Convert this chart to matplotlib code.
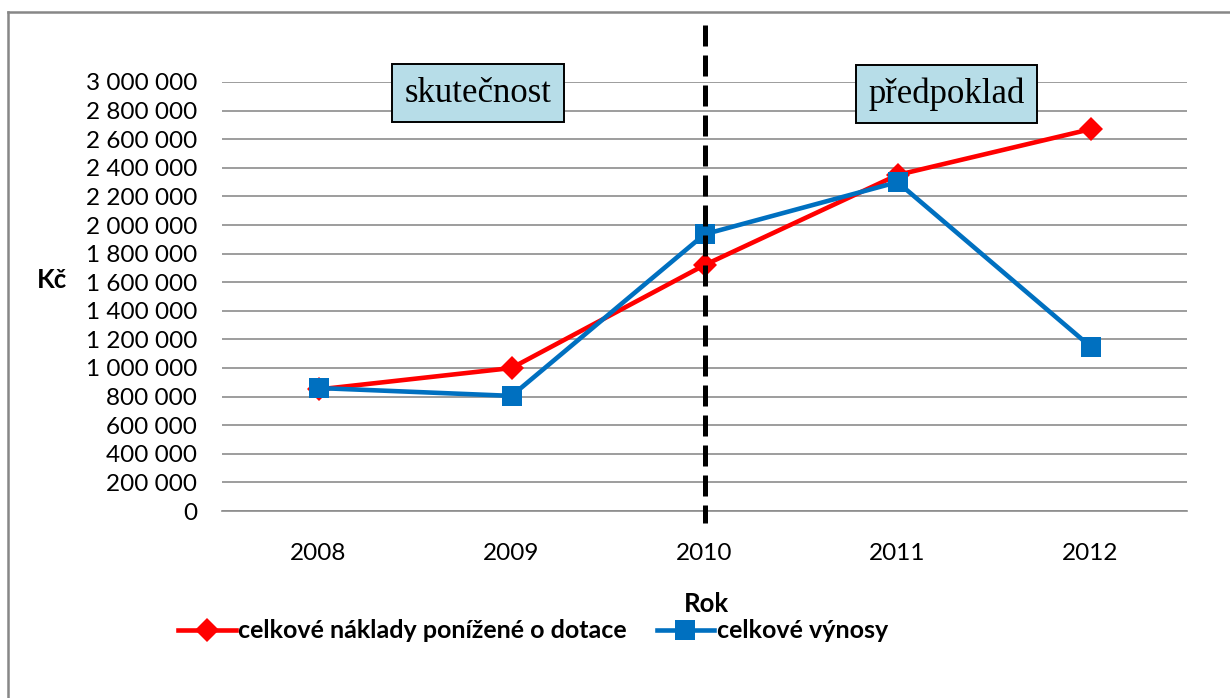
import matplotlib.pyplot as plt
from matplotlib.lines import Line2D

# data
years = ['2008', '2009', '2010', '2011', '2012']
naklady = [850000, 1000000, 1720000, 2350000, 2670000]
vynosy = [860000, 805000, 1935000, 2300000, 1150000]
y_ticks = list(range(0, 3000001, 200000))
y_labels = [f'{v:,}'.replace(',', ' ') for v in y_ticks]

plt.rcParams['font.family'] = ['Lato', 'DejaVu Sans']

fig = plt.figure(figsize=(12.3, 6.98), dpi=100)
ax = fig.add_axes([222 / 1230, 1 - 511 / 698, 965 / 1230, 429 / 698])

x = list(range(len(years)))
ax.plot(x, naklady, color='#FF0000', lw=3.3, marker='D', ms=12, mew=0,
        label='celkové náklady ponížené o dotace', zorder=4)
ax.plot(x, vynosy, color='#0070C0', lw=3.3, marker='s', ms=14, mew=0,
        label='celkové výnosy', zorder=5)

ax.set_xlim(-0.5, 4.5)
ax.set_ylim(0, 3000000)
ax.set_xticks(x, years)
ax.set_yticks(y_ticks, y_labels)
ax.tick_params(axis='both', length=0, labelsize=17.5)
ax.tick_params(axis='x', pad=23)
ax.tick_params(axis='y', pad=18)
ax.grid(axis='y', color='#8c8c8c', lw=1.2)
ax.set_axisbelow(True)
for s in ['top', 'right', 'left']:
    ax.spines[s].set_visible(False)
ax.spines['bottom'].set_color('#8c8c8c')
ax.spines['bottom'].set_linewidth(1.2)

# dividing line between actual and forecast
ax.axvline(2, ymin=1.133, ymax=-0.028, color='black', lw=3.6,
           dashes=(4.2, 1.8), clip_on=False, zorder=6)

box = dict(boxstyle='square,pad=0.36', fc='#B7DDE8', ec='black', lw=1.4)
ax.text(0.2658, 0.974, 'skutečnost', transform=ax.transAxes, ha='center',
        va='center', family='Liberation Serif', fontsize=25, bbox=box)
ax.text(0.7508, 0.972, 'předpoklad', transform=ax.transAxes, ha='center',
        va='center', family='Liberation Serif', fontsize=25, bbox=box)

fig.text(52 / 1230, 1 - 280 / 698, 'Kč', fontsize=18.5, fontweight='bold',
         ha='center', va='center')
fig.text(706 / 1230, 1 - 604 / 698, 'Rok', fontsize=18.5, fontweight='bold',
         ha='center', va='center')

fig.legend(loc='center left', bbox_to_anchor=(178 / 1230, 1 - 631 / 698),
           ncol=2, frameon=False, handlelength=2.3, handletextpad=0.1,
           columnspacing=1.2, prop={'size': 18, 'weight': 'bold'},
           borderaxespad=0, borderpad=0)

# outer chart frame
fig.add_artist(Line2D([8 / 1230, 1], [1 - 12 / 698] * 2, color='#878787', lw=1.8))
fig.add_artist(Line2D([8 / 1230] * 2, [0, 1 - 12 / 698], color='#878787', lw=1.8))

fig.savefig('out.png', dpi=100)
